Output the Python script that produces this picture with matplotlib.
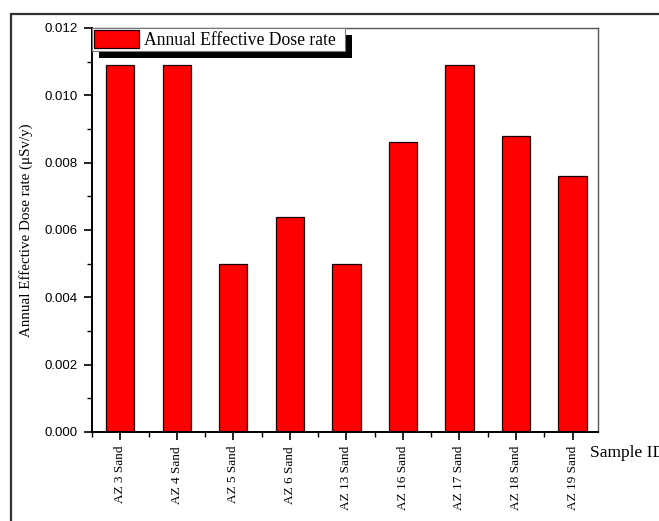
import matplotlib
matplotlib.use("Agg")
import matplotlib.pyplot as plt
from matplotlib.patches import Rectangle
from matplotlib.ticker import MultipleLocator

# Annual effective dose rate per sand sample
samples = ["AZ 3 Sand", "AZ 4 Sand", "AZ 5 Sand", "AZ 6 Sand", "AZ 13 Sand",
           "AZ 16 Sand", "AZ 17 Sand", "AZ 18 Sand", "AZ 19 Sand"]
dose_rate = [0.0109, 0.0109, 0.0050, 0.0064, 0.0050,
             0.0086, 0.0109, 0.0088, 0.0076]

serif = "Liberation Serif"
sans = "Liberation Sans"

fig = plt.figure(figsize=(6.59, 5.21), dpi=100)
fig.patch.set_facecolor("white")

# outer frame around the figure
fig.add_artist(Rectangle((11 / 659, -0.2), 1.2, 0.2 + 507 / 521,
                         transform=fig.transFigure, fill=False,
                         edgecolor="#333333", linewidth=1.6))

ax = fig.add_axes([92 / 659, 89 / 521, 506 / 659, 404 / 521])

pos = list(range(1, len(samples) + 1))
ax.bar(pos, dose_rate, width=0.5, color="#ff0000", edgecolor="#1a0000",
       linewidth=0.9, label="Annual Effective Dose rate", zorder=2)

ax.set_xlim(0.5, 9.45)
ax.set_ylim(0, 0.012)
ax.set_xticks(pos)
ax.set_xticklabels(samples, rotation=90, fontfamily=serif, fontsize=9.5)
ax.xaxis.set_minor_locator(MultipleLocator(1, offset=0.5))
ax.yaxis.set_major_locator(MultipleLocator(0.002))
ax.yaxis.set_minor_locator(MultipleLocator(0.001))
ax.yaxis.set_major_formatter(lambda v, p: f"{v:.3f}")
for lbl in ax.get_yticklabels():
    lbl.set_fontfamily(sans)
ax.tick_params(axis="y", labelsize=9.5)
ax.tick_params(which="major", direction="out", length=6, width=1.2, pad=4)
ax.tick_params(which="minor", direction="out", length=3.6, width=1.0)
ax.tick_params(top=False, right=False, which="both")

for side in ("left", "bottom"):
    ax.spines[side].set_linewidth(1.4)
    ax.spines[side].set_color("black")
for side in ("top", "right"):
    ax.spines[side].set_linewidth(1.0)
    ax.spines[side].set_color("#555555")

ax.set_ylabel("Annual Effective Dose rate (μSv/y)", fontfamily=serif, fontsize=10.8)
ax.yaxis.set_label_coords(-0.117, 0.5)
ax.set_xlabel("Sample ID", fontfamily=serif, fontsize=12.5)
ax.xaxis.set_label_coords(0.984, -0.052)
ax.xaxis.label.set_horizontalalignment("left")
ax.xaxis.label.set_verticalalignment("center")

leg = ax.legend(loc="upper left", bbox_to_anchor=(0, 1.0, 0.50, 0.0),
                mode="expand", borderaxespad=0, frameon=True, fancybox=False,
                prop={"family": serif, "size": 12.7}, handlelength=2.55,
                handleheight=1.2, borderpad=0.12, handletextpad=0.3)
leg.get_frame().set_edgecolor("#777777")
leg.get_frame().set_linewidth(0.8)
leg.get_frame().set_alpha(1)
leg.set_zorder(5)

# solid black drop shadow behind the legend box
fig.canvas.draw()
bb = leg.get_window_extent().transformed(fig.transFigure.inverted())
dx, dy = 7 / 659, 7 / 521
ax.add_patch(Rectangle((bb.x0 + dx, bb.y0 - dy), bb.width, bb.height,
                       transform=fig.transFigure, facecolor="black",
                       edgecolor="none", zorder=4.9, clip_on=False))

fig.savefig("out.png", dpi=100)
